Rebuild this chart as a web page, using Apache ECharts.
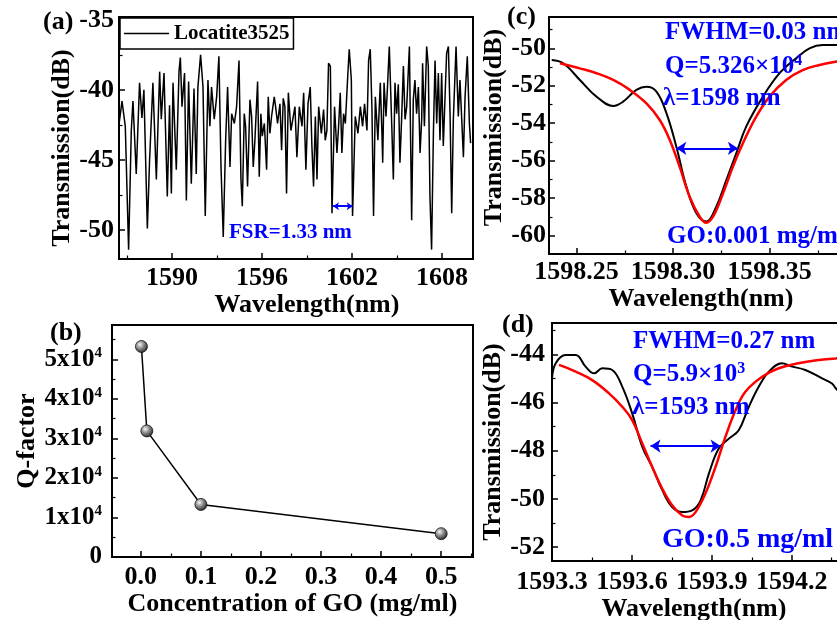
<!DOCTYPE html>
<html><head><meta charset="utf-8">
<script src="https://cdn.jsdelivr.net/npm/echarts@6/dist/echarts.min.js"></script>
<style>html,body{margin:0;padding:0;background:#fff;overflow:hidden}#c{width:837px;height:620px}</style>
</head><body><div id="c"></div><script>
// ---------- Panel (a): transmission spectrum ----------
const waveA = [
 1586.48,1586.67,1586.89,1587.11,1587.29,1587.40,1587.62,1587.84,1588.00,1588.13,1588.36,1588.51,1588.73,1588.96,1589.18,1589.29,1589.47,1589.69,1589.84,1589.96,1590.07,1590.29,1590.47,1590.56,1590.67,1590.84,1590.96,1591.11,1591.29,1591.47,1591.62,1591.73,1591.91,1592.07,1592.22,1592.40,
 1592.53,1592.64,1592.82,1592.98,1593.13,1593.27,1593.42,1593.58,1593.71,1593.87,1593.98,1594.16,1594.31,1594.47,1594.60,1594.69,1594.82,1594.91,1595.04,1595.20,1595.31,1595.42,1595.53,1595.71,1595.82,1595.93,1596.02,1596.16,1596.31,1596.42,1596.53,1596.64,1596.82,1596.91,1597.04,1597.20,1597.31,1597.42,1597.53,1597.64,1597.76,1597.93,1598.09,1598.20,
 1598.33,1598.49,1598.67,1598.78,1598.93,1599.07,1599.22,1599.33,1599.44,1599.56,1599.67,1599.78,1599.96,1600.11,1600.22,1600.33,1600.44,1600.56,1600.67,1600.84,1601.00,1601.11,1601.22,1601.33,1601.44,1601.56,1601.73,1601.82,1601.96,1602.04,1602.22,1602.40,1602.56,1602.71,1602.84,1603.00,1603.11,1603.22,1603.33,1603.44,1603.56,1603.73,1603.89,1604.00,
 1604.05,1604.14,1604.27,1604.36,1604.49,1604.65,1604.76,1604.87,1604.98,1605.09,1605.20,1605.31,1605.43,1605.54,1605.65,1605.83,1605.98,1606.09,1606.20,1606.31,1606.43,1606.54,1606.65,1606.71,1606.83,1606.98,1607.09,1607.20,1607.31,1607.43,1607.54,1607.65,1607.76,1607.87,1607.98,1608.09,1608.20,1608.31,1608.43,1608.54,1608.65,1608.76,1608.94,1609.09,1609.20,1609.31,1609.43,1609.54,1609.69,1609.83,1609.91
];
const transA = [
 -42.4,-40.8,-42.6,-51.4,-42.9,-40.8,-46.0,-39.5,-42.0,-40.0,-49.9,-45.0,-39.5,-46.4,-38.7,-42.1,-38.8,-47.6,-41.1,-47.4,-39.5,-45.7,-38.7,-37.7,-41.2,-38.8,-47.9,-39.4,-46.7,-39.9,-46.0,-39.8,-37.5,-39.8,-49.0,-39.3,
 -42.6,-39.8,-42.1,-40.5,-37.6,-45.5,-50.5,-43.6,-39.8,-45.5,-41.7,-42.4,-41.2,-37.9,-46.4,-48.3,-41.7,-42.6,-46.9,-40.7,-41.9,-45.5,-43.6,-39.4,-46.2,-41.7,-43.3,-42.4,-45.7,-40.5,-43.1,-41.9,-40.5,-41.2,-42.4,-41.0,-44.3,-40.6,-41.2,-47.4,-40.2,-42.9,-41.9,-41.2,
 -44.8,-41.2,-42.6,-40.2,-45.7,-41.0,-39.8,-44.0,-46.9,-41.9,-46.4,-41.2,-43.1,-41.4,-43.6,-42.9,-38.1,-38.3,-48.8,-41.2,-44.5,-42.6,-40.2,-44.5,-41.7,-42.4,-38.8,-37.1,-39.3,-49.0,-41.9,-43.1,-41.2,-42.6,-41.0,-42.9,-37.9,-37.1,-41.2,-49.0,-40.5,-43.6,-39.5,-43.1,
 -45.2,-39.5,-41.9,-40.0,-36.9,-42.4,-46.4,-39.5,-41.7,-39.6,-45.2,-42.1,-38.3,-42.1,-41.2,-36.9,-49.3,-40.7,-39.3,-41.7,-39.8,-44.5,-42.1,-38.1,-42.6,-36.9,-38.3,-47.6,-51.4,-43.1,-37.9,-42.4,-38.8,-43.6,-38.8,-44.0,-40.7,-37.4,-36.9,-41.7,-48.8,-42.1,-36.9,-41.9,-39.3,-41.9,-44.8,-40.5,-37.6,-42.4,-43.8
];
const fsrWave = [1600.74, 1602.05];
const fsrLevel = -48.3;
const ticksAX = [1590, 1596, 1602, 1608];
const minorAX = [1587, 1593, 1599, 1605];
const ticksAY = [-50, -45, -40, -35];
const minorAY = [-52.5, -47.5, -42.5, -37.5];

// ---------- Panel (b): Q-factor vs GO concentration ----------
const concGO = [0.001, 0.01, 0.1, 0.5];
const qFactor = [53260, 31900, 13300, 5900];
const ticksBX = [0.0, 0.1, 0.2, 0.3, 0.4, 0.5];
const minorBX = [0.05, 0.15, 0.25, 0.35, 0.45, 0.55];
const ticksBY = [0, 10000, 20000, 30000, 40000, 50000];
const minorBY = [5000, 15000, 25000, 35000, 45000, 55000];

// ---------- Panel (c): GO 0.001 mg/ml ----------
const waveC = [1598.2371,1598.2431,1598.2517,1598.2603,1598.2690,1598.2741,1598.2810,1598.2862,1598.2914,1598.2966,1598.3017,1598.3069,1598.3121,1598.3172,1598.3224,1598.3276,1598.3328,1598.3379,1598.3466,1598.3552,1598.3638,1598.3707,1598.3776,1598.3847,1598.3950];
const transC = [-50.62,-50.80,-51.69,-52.58,-53.08,-52.85,-52.22,-52.05,-52.31,-53.47,-55.25,-57.38,-58.81,-59.25,-58.45,-57.03,-55.60,-54.18,-52.58,-51.33,-50.53,-50.00,-49.82,-49.82,-49.90];
const waveCFit = [1598.2414,1598.2517,1598.2603,1598.2690,1598.2776,1598.2862,1598.2931,1598.2983,1598.3034,1598.3086,1598.3138,1598.3172,1598.3207,1598.3259,1598.3310,1598.3362,1598.3431,1598.3500,1598.3586,1598.3672,1598.3759,1598.3847,1598.3950];
const transCFit = [-50.80,-51.07,-51.33,-51.69,-52.22,-52.94,-53.83,-54.89,-56.32,-57.92,-58.99,-59.31,-58.99,-57.74,-56.32,-55.07,-53.65,-52.58,-51.69,-51.16,-50.89,-50.71,-50.55];
const fwhmCWave = [1598.3017, 1598.3336];
const fwhmCLevel = -55.34;
const ticksCX = [1598.25, 1598.30, 1598.35];
const minorCX = [1598.275, 1598.325, 1598.375];
const ticksCY = [-60, -58, -56, -54, -52, -50];
const minorCY = [-61, -59, -57, -55, -53, -51, -49];

// ---------- Panel (d): GO 0.5 mg/ml ----------
const waveD = [1593.300,1593.314,1593.351,1593.389,1593.426,1593.458,1593.489,1593.526,1593.564,1593.601,1593.639,1593.676,1593.714,1593.751,1593.789,1593.826,1593.858,1593.889,1593.926,1593.964,1594.001,1594.039,1594.076,1594.114,1594.164,1594.195,1594.251,1594.314,1594.351,1594.365,1594.400];
const transD = [-45.00,-44.37,-44.03,-44.03,-44.51,-44.79,-44.58,-44.65,-45.35,-46.45,-47.84,-48.67,-49.64,-50.34,-50.55,-50.48,-50.06,-48.95,-47.91,-47.50,-47.15,-46.18,-45.35,-44.72,-44.37,-44.49,-44.65,-45.00,-45.21,-45.41,-45.80];
const waveDFit = [1593.326,1593.389,1593.451,1593.514,1593.564,1593.601,1593.639,1593.676,1593.714,1593.751,1593.789,1593.814,1593.839,1593.876,1593.914,1593.951,1593.989,1594.026,1594.089,1594.151,1594.226,1594.301,1594.365,1594.400];
const transDFit = [-44.44,-44.72,-45.07,-45.62,-46.18,-46.73,-47.70,-48.67,-49.58,-50.27,-50.69,-50.75,-50.55,-49.78,-48.67,-47.43,-46.32,-45.55,-44.93,-44.58,-44.37,-44.24,-44.17,-44.13];
const fwhmDWave = [1593.670, 1593.933];
const fwhmDLevel = -47.81;
const ticksDX = [1593.3, 1593.6, 1593.9, 1594.2];
const minorDX = [1593.45, 1593.75, 1594.05, 1594.35];
const ticksDY = [-52, -50, -48, -46, -44];
const minorDY = [-51, -49, -47, -45, -43];

// ---------- helpers ----------
const FONT = '"Liberation Serif","Times New Roman",serif';
const BLUE = '#0000ff';
function zip(a, b) { const n = Math.min(a.length, b.length); const r = []; for (let i = 0; i < n; i++) r.push([a[i], b[i]]); return r; }
function nameStyle(pad) { return { color: '#000', fontSize: 26, fontWeight: 'bold', fontFamily: FONT, padding: pad || 0 }; }
function mainAxis(g, pos, min, max, majors, fmt, name, gap, pad, margin, fontSize, rich) {
  const lab = { show: true, customValues: majors, formatter: fmt, margin: margin, color: '#000', fontSize: fontSize || 26, fontWeight: 'bold', fontFamily: FONT };
  if (rich) { lab.rich = rich; lab.align = 'right'; }
  return {
    type: 'value', gridIndex: g, position: pos, min: min, max: max,
    axisLine: { show: true, onZero: false, lineStyle: { color: '#000', width: 2 } },
    axisTick: { show: true, inside: true, length: 6, customValues: majors, lineStyle: { color: '#000', width: 1.5 } },
    axisLabel: lab,
    splitLine: { show: false },
    name: name, nameLocation: 'middle', nameGap: gap, nameRotate: (pos === 'left' ? 90 : 0), nameTextStyle: nameStyle(pad)
  };
}
function minorAxis(g, pos, min, max, minors) {
  return {
    type: 'value', gridIndex: g, position: pos, min: min, max: max,
    axisLine: { show: false, onZero: false },
    axisTick: { show: true, inside: true, length: 3.5, customValues: minors, lineStyle: { color: '#000', width: 1.2 } },
    axisLabel: { show: false }, splitLine: { show: false }
  };
}
function arrowLine(xs, y, size) {
  return {
    silent: true, animation: false, symbol: ['arrow', 'arrow'], symbolSize: size,
    lineStyle: { color: BLUE, width: 2, type: 'solid' }, label: { show: false },
    data: [[{ coord: [xs[0], y] }, { coord: [xs[1], y] }]]
  };
}
const gridBase = { show: true, borderColor: '#000', borderWidth: 2, backgroundColor: 'transparent', containLabel: false, outerBoundsMode: 'none' };
const qRich = {
  m: { fontSize: 25, fontWeight: 'bold', fontFamily: FONT, color: '#000' },
  s: { fontSize: 15, fontWeight: 'bold', fontFamily: FONT, color: '#000', padding: [0, 0, 12, 0] }
};

const xAxes = [
  mainAxis(0, 'bottom', 1586.47, 1610.07, ticksAX, v => String(v), 'Wavelength(nm)', 30, [0, 0, 0, 22], 6),
  minorAxis(0, 'bottom', 1586.47, 1610.07, minorAX),
  mainAxis(1, 'bottom', -0.048, 0.553, ticksBX, v => v.toFixed(1), 'Concentration of GO (mg/ml)', 32, 0, 7),
  minorAxis(1, 'bottom', -0.048, 0.553, minorBX),
  mainAxis(2, 'bottom', 1598.2357, 1598.40, ticksCX, v => v.toFixed(2), 'Wavelength(nm)', 30, [0, 13, 0, 0], 5),
  minorAxis(2, 'bottom', 1598.2357, 1598.40, minorCX),
  mainAxis(3, 'bottom', 1593.3, 1594.4, ticksDX, v => v.toFixed(1), 'Wavelength(nm)', 33, [0, 9, 0, 0], 8),
  minorAxis(3, 'bottom', 1593.3, 1594.4, minorDX)
];
const yAxes = [
  mainAxis(0, 'left', -52.07, -34.8, ticksAY, v => String(v), 'Transmission(dB)', 43, [0, 20, 0, 0], 5),
  minorAxis(0, 'left', -52.07, -34.8, minorAY),
  mainAxis(1, 'left', 0, 58700, ticksBY, v => v === 0 ? '{m|0}' : '{m|' + (v / 10000) + 'x10}{s|4}', 'Q-factor', 71, 0, 10, 25, qRich),
  minorAxis(1, 'left', 0, 58700, minorBY),
  mainAxis(2, 'left', -60.98, -48.33, ticksCY, v => String(v), 'Transmission(dB)', 41, [0, 0, 0, 16], 3),
  minorAxis(2, 'left', -60.98, -48.33, minorCY),
  mainAxis(3, 'left', -52.58, -42.7, ticksDY, v => String(v), 'Transmission(dB)', 46, 0, 7),
  minorAxis(3, 'left', -52.58, -42.7, minorDY)
];

function txt(x, y, text, size, color, rich) {
  const st = { text: text, font: 'bold ' + size + 'px ' + FONT, fill: color, verticalAlign: 'middle', align: 'left' };
  if (rich) st.rich = rich;
  return { type: 'text', x: x, y: y, silent: true, z: 100, style: st };
}
function blueRich(size) {
  return {
    m: { font: 'bold ' + size + 'px ' + FONT, fill: BLUE, lineHeight: size + 4 },
    s: { font: 'bold ' + Math.round(size * 0.62) + 'px ' + FONT, fill: BLUE, verticalAlign: 'top', lineHeight: Math.round(size * 0.62) }
  };
}

const option = {
  animation: false,
  backgroundColor: '#fff',
  textStyle: { fontFamily: FONT },
  grid: [
    Object.assign({ left: 119, top: 17, width: 354, height: 242 }, gridBase),
    Object.assign({ left: 112, top: 325, width: 361, height: 232 }, gridBase),
    Object.assign({ left: 549, top: 17, width: 317, height: 237 }, gridBase),
    Object.assign({ left: 552, top: 323, width: 293, height: 238 }, gridBase)
  ],
  xAxis: xAxes,
  yAxis: yAxes,
  legend: {
    data: [{ name: 'Locatite3525', icon: 'rect' }], left: 120, top: 18, orient: 'horizontal',
    borderColor: '#000', borderWidth: 1.5, padding: [5, 4, 5, 4], itemWidth: 45, itemHeight: 1.5, itemGap: 5,
    backgroundColor: '#fff',
    textStyle: { color: '#000', fontSize: 21, fontWeight: 'bold', fontFamily: FONT }
  },
  series: [
    { name: 'Locatite3525', type: 'line', xAxisIndex: 0, yAxisIndex: 0, data: zip(waveA, transA), symbol: 'none',
      lineStyle: { color: '#000', width: 1.5 }, itemStyle: { color: '#000' }, clip: true,
      markLine: arrowLine(fsrWave, fsrLevel, 6) },
    { name: 'Q', type: 'line', xAxisIndex: 2, yAxisIndex: 2, data: zip(concGO, qFactor), symbol: 'circle', symbolSize: 12,
      lineStyle: { color: '#000', width: 1.5 },
      itemStyle: { borderColor: '#111', borderWidth: 0.8,
        color: { type: 'radial', x: 0.38, y: 0.35, r: 0.7, colorStops: [{ offset: 0, color: '#f4f4f4' }, { offset: 0.45, color: '#8a8a8a' }, { offset: 1, color: '#1e1e1e' }] } } },
    { name: 'c-data', type: 'line', xAxisIndex: 4, yAxisIndex: 4, data: zip(waveC, transC), symbol: 'none', smooth: 0.4,
      lineStyle: { color: '#000', width: 2 }, clip: true, markLine: arrowLine(fwhmCWave, fwhmCLevel, 10) },
    { name: 'c-fit', type: 'line', xAxisIndex: 4, yAxisIndex: 4, data: zip(waveCFit, transCFit), symbol: 'none', smooth: 0.4,
      lineStyle: { color: '#ff0000', width: 2.5 }, clip: true },
    { name: 'd-data', type: 'line', xAxisIndex: 6, yAxisIndex: 6, data: zip(waveD, transD), symbol: 'none', smooth: 0.4,
      lineStyle: { color: '#000', width: 2 }, clip: true, markLine: arrowLine(fwhmDWave, fwhmDLevel, 10) },
    { name: 'd-fit', type: 'line', xAxisIndex: 6, yAxisIndex: 6, data: zip(waveDFit, transDFit), symbol: 'none', smooth: 0.4,
      lineStyle: { color: '#ff0000', width: 2.5 }, clip: true }
  ],
  graphic: [
    txt(43, 22, '(a)', 26, '#000'),
    txt(50, 333, '(b)', 26, '#000'),
    txt(507, 17, '(c)', 26, '#000'),
    txt(502, 325, '(d)', 26, '#000'),
    txt(229, 233, 'FSR=1.33 nm', 21, BLUE),
    txt(665, 33, 'FWHM=0.03 nm', 25, BLUE),
    txt(665, 67, '{m|Q=5.326×10}{s|4}', 25, BLUE, blueRich(25)),
    txt(663, 99, 'λ=1598 nm', 25, BLUE),
    txt(667, 237, 'GO:0.001 mg/ml', 25, BLUE),
    txt(633, 342, 'FWHM=0.27 nm', 25, BLUE),
    txt(633, 375, '{m|Q=5.9×10}{s|3}', 25, BLUE, blueRich(25)),
    txt(632, 408, 'λ=1593 nm', 25, BLUE),
    txt(662, 540, 'GO:0.5 mg/ml', 28, BLUE)
  ]
};
const chart = echarts.init(document.getElementById('c'), null, { renderer: 'canvas', width: 837, height: 620 });
chart.setOption(option);
</script></body></html>
